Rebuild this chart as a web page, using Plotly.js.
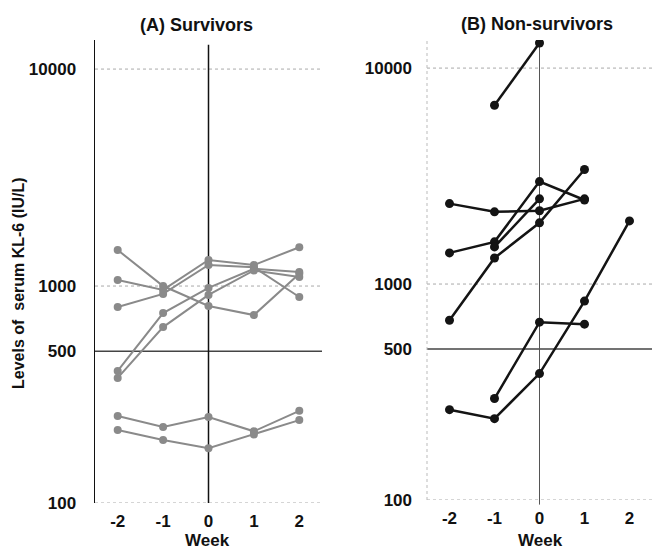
<!DOCTYPE html>
<html>
<head>
<meta charset="utf-8">
<script src="https://cdn.plot.ly/plotly-3.0.1.min.js"></script>
<style>html,body{margin:0;padding:0;background:#fff;}#chart{width:652px;height:550px;}</style>
</head>
<body>
<div id="chart"></div>
<script>
// Week tick labels
const weekTicks = [-2, -1, 0, 1, 2];
const yTickVals = [100, 500, 1000, 10000];
const yTickText = ["100", "500", "1000", "10000"];

// (A) Survivors - serum KL-6 (IU/L) by week
const weeksA = [-2, -1, 0, 1, 2];
const survivor1 = [1465, 1000, 809, 735, 1140];
const survivor2 = [1066, 960, 1318, 1250, 1510];
const survivor3 = [800, 920, 1250, 1220, 890];
const survivor4 = [406, 751, 980, 1200, 1160];
const survivor5 = [377, 647, 910, 1180, 1100];
const survivor6 = [252, 224, 249, 214, 266];
const survivor7 = [217, 195, 179, 207, 241];

// (B) Non-survivors
const nonsurv1Weeks = [-1, 0];
const nonsurv1 = [6730, 13070];
const nonsurv2Weeks = [-2, -1, 0, 1];
const nonsurv2 = [2357, 2160, 2185, 2480];
const nonsurv3Weeks = [-2, -1, 0, 1];
const nonsurv3 = [1394, 1568, 2980, 2450];
const nonsurv4Weeks = [-1, 0];
const nonsurv4 = [1486, 2480];
const nonsurv5Weeks = [-2, -1, 0, 1];
const nonsurv5 = [680, 1320, 1920, 3390];
const nonsurv6Weeks = [-2, -1, 0, 1, 2];
const nonsurv6 = [262, 238, 385, 834, 1960];
const nonsurv7Weeks = [-1, 0, 1];
const nonsurv7 = [295, 666, 652];

const grayC = '#8a8a8a';
const blackC = '#141414';

function trA(y) {
  return {x: weeksA, y: y, xaxis: 'x', yaxis: 'y', mode: 'lines+markers',
    line: {color: grayC, width: 2}, marker: {color: grayC, size: 8}, showlegend: false, hoverinfo: 'skip'};
}
function trB(x, y) {
  return {x: x, y: y, xaxis: 'x2', yaxis: 'y2', mode: 'lines+markers',
    line: {color: blackC, width: 2.5}, marker: {color: blackC, size: 9}, showlegend: false, hoverinfo: 'skip'};
}

const data = [
  trA(survivor1), trA(survivor2), trA(survivor3), trA(survivor4),
  trA(survivor5), trA(survivor6), trA(survivor7),
  trB(nonsurv1Weeks, nonsurv1), trB(nonsurv2Weeks, nonsurv2), trB(nonsurv3Weeks, nonsurv3),
  trB(nonsurv4Weeks, nonsurv4), trB(nonsurv5Weeks, nonsurv5), trB(nonsurv6Weeks, nonsurv6),
  trB(nonsurv7Weeks, nonsurv7)
];

const FONT = 'Liberation Sans, Arial, sans-serif';
const tickFont = {family: FONT, size: 17, color: '#111', weight: 'bold'};

function hline(xr, yr, v, dash, color, width) {
  return {type: 'line', xref: xr + ' domain', yref: yr, x0: 0, x1: 1, y0: v, y1: v,
    line: {color: color, width: width, dash: dash}, layer: 'below'};
}

const shapes = [
  hline('x', 'y', 10000, 'dot', '#aaa', 1),
  hline('x', 'y', 1000, 'dot', '#aaa', 1),
  hline('x', 'y', 100, 'dot', '#aaa', 1),
  hline('x', 'y', 500, 'solid', '#444', 1.5),
  {type: 'line', xref: 'x', yref: 'y domain', x0: 0, x1: 0, y0: 0, y1: 0.99, line: {color: '#111', width: 1.5}, layer: 'below'},
  hline('x2', 'y2', 10000, 'dot', '#aaa', 1),
  hline('x2', 'y2', 1000, 'dot', '#aaa', 1),
  hline('x2', 'y2', 100, 'dot', '#aaa', 1),
  hline('x2', 'y2', 500, 'solid', '#444', 1.5),
  {type: 'line', xref: 'x2', yref: 'y2 domain', x0: 0, x1: 0, y0: -0.01, y1: 1, line: {color: '#555', width: 1}, layer: 'below'},
  {type: 'line', xref: 'x2 domain', yref: 'y2 domain', x0: 0, x1: 0, y0: 0, y1: 1, line: {color: '#bbb', width: 1, dash: 'dot'}, layer: 'below'}
];

function xAxis(domain, anchor) {
  return {domain: domain, anchor: anchor, range: [-2.5, 2.5], showgrid: false, zeroline: false,
    showline: false, tickmode: 'array', tickvals: weekTicks, ticktext: weekTicks.map(String),
    tickfont: tickFont, ticks: '', ticklabelstandoff: 6, automargin: false, fixedrange: true};
}
function yAxis(domain, anchor, range, showline) {
  return {domain: domain, anchor: anchor, type: 'log', range: range, showgrid: false, zeroline: false,
    showline: showline, linecolor: '#111', linewidth: 1.5,
    tickmode: 'array', tickvals: yTickVals, ticktext: yTickText,
    tickfont: tickFont, ticks: '', ticklabelstandoff: 14, automargin: false, fixedrange: true};
}

const W = 652, H = 550;
const layout = {
  width: W, height: H,
  margin: {l: 0, r: 0, t: 0, b: 0},
  paper_bgcolor: '#fff', plot_bgcolor: 'rgba(0,0,0,0)',
  xaxis: xAxis([95 / W, 322 / W], 'y'),
  yaxis: yAxis([(H - 503) / H, (H - 40) / H], 'x', [2, 4.134], true),
  xaxis2: xAxis([427 / W, 1], 'y2'),
  yaxis2: yAxis([(H - 500) / H, (H - 40) / H], 'x2', [2, 4.13], false),
  shapes: shapes,
  annotations: [
    {text: '(A) Survivors', xref: 'paper', yref: 'paper', x: 196 / W, y: 1 - 25 / H, showarrow: false,
      font: {family: FONT, size: 18, color: '#111', weight: 'bold'}, xanchor: 'center', yanchor: 'middle'},
    {text: '(B) Non-survivors', xref: 'paper', yref: 'paper', x: 537 / W, y: 1 - 24 / H, showarrow: false,
      font: {family: FONT, size: 18, color: '#111', weight: 'bold'}, xanchor: 'center', yanchor: 'middle'},
    {text: 'Levels of  serum KL-6 (IU/L)', xref: 'paper', yref: 'paper', x: 18 / W, y: 1 - 283 / H, showarrow: false,
      textangle: -90, font: {family: FONT, size: 16, color: '#111', weight: 'bold'}, xanchor: 'center', yanchor: 'middle'},
    {text: 'Week', xref: 'paper', yref: 'paper', x: 207 / W, y: 1 - 540 / H, showarrow: false,
      font: {family: FONT, size: 17, color: '#111', weight: 'bold'}, xanchor: 'center', yanchor: 'middle'},
    {text: 'Week', xref: 'paper', yref: 'paper', x: 540 / W, y: 1 - 540 / H, showarrow: false,
      font: {family: FONT, size: 17, color: '#111', weight: 'bold'}, xanchor: 'center', yanchor: 'middle'}
  ]
};

Plotly.newPlot('chart', data, layout, {staticPlot: true, displayModeBar: false});
</script>
</body>
</html>
